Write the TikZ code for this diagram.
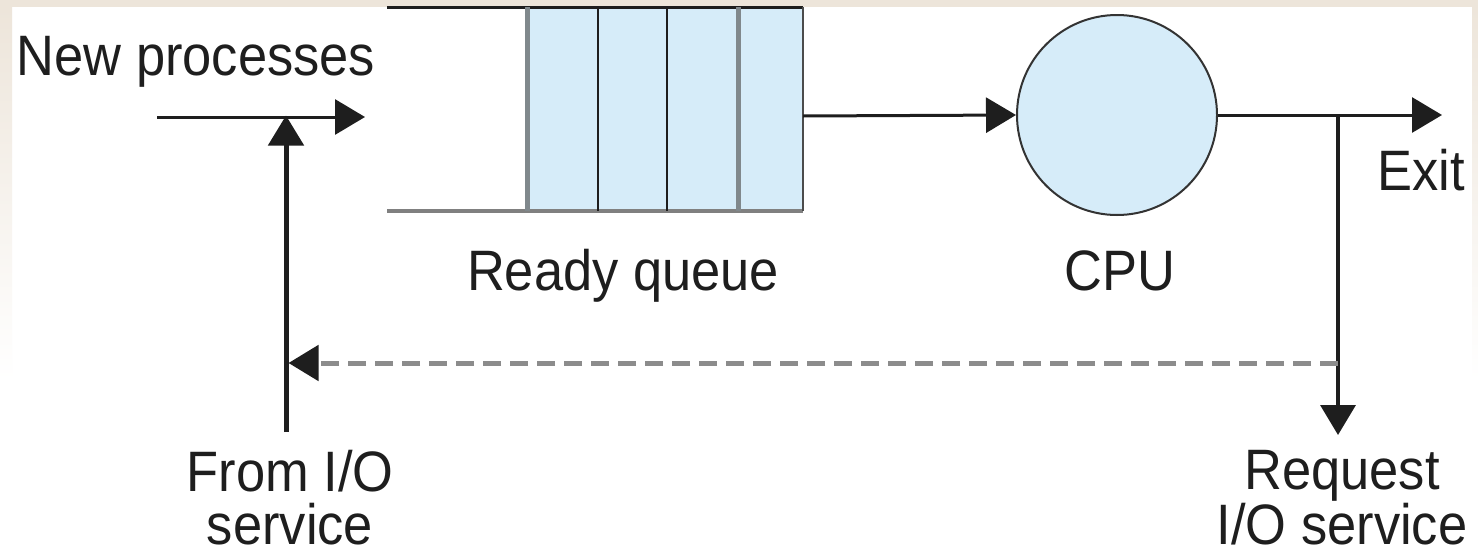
\documentclass[tikz,border=0pt]{standalone}
\usepackage{fontspec}
\setmainfont{Liberation Sans}
\usetikzlibrary{arrows.meta}

\definecolor{paper}{RGB}{237,229,218}
\definecolor{cellblue}{RGB}{214,236,249}
\definecolor{divgray}{RGB}{128,136,140}
\definecolor{inkgray}{RGB}{30,30,30}
\definecolor{dashgray}{RGB}{140,140,140}

\tikzset{
  flow/.style={draw=inkgray, line width=3pt,
    -{Triangle[length=30pt,width=35pt,color=inkgray]}},
  label/.style={font=\fontsize{57}{53}\selectfont, text=inkgray,
    xscale=0.92, transform shape, inner sep=0pt, align=center},
}

\begin{document}
\begin{tikzpicture}[x=1pt,y=-1pt]
  \useasboundingbox (0,0) rectangle (1478,557);

  % page background with its tinted edges
  \fill[white] (0,0) rectangle (1478,557);
  \fill[paper] (0,0) rectangle (1478,7);
  \shade[top color=paper, bottom color=white] (0,7) rectangle (12,380);
  \shade[top color=paper, bottom color=white] (1472,7) rectangle (1478,380);

  % ready queue: open slot on the left, four filled cells on the right
  \fill[cellblue] (527,7) rectangle (803,211);
  \draw[line width=3pt, inkgray] (387,7) -- (803,7);
  \draw[line width=4pt, gray] (387,211) -- (803,211);
  \foreach \xx in {527,738}
    \draw[line width=5pt, divgray] (\xx,7) -- (\xx,211);
  \foreach \xx in {598,667}
    \draw[line width=2.5pt, inkgray] (\xx,7) -- (\xx,211);
  \draw[line width=2pt, black!70] (803,7) -- (803,211);
  \coordinate (qout) at (803,116);

  % processor
  \node (cpu) [circle, draw=black!80, line width=2pt, fill=cellblue,
    minimum size=200pt, inner sep=0pt] at (1117,115) {};

  % free ends of the connectors
  \coordinate (newstart) at (157,117);
  \coordinate (newend) at (365,117);
  \coordinate (join) at (286,117);
  \coordinate (iostart) at (286,432);
  \coordinate (iojoin) at (286,363);
  \coordinate (branch) at (1338,115);
  \coordinate (branchdash) at (1338,363);
  \coordinate (exitend) at (1442,115);
  \coordinate (reqend) at (1338,435);

  % connectors
  \draw[flow] (newstart) -- (newend);
  \draw[flow, line width=5pt] (iostart) -- ([yshift=1.5pt]join);
  \draw[flow] (qout) -- (cpu.west);
  \draw[flow] (cpu.east) -- (exitend);
  \draw[flow, line width=3.5pt] (branch) -- (reqend);
  \draw[draw=dashgray, line width=5pt, dash pattern=on 18pt off 9pt,
    -{Triangle[length=30pt,width=35pt,color=inkgray]}]
    (branchdash) -- ([xshift=2.5pt]iojoin);

  % labels (base anchor sits on the last line)
  \node (tnew) [label, anchor=base] at (196,75) {New processes};
  \node (tready) [label, anchor=base] at (623,290) {Ready queue};
  \node (tcpu) [label, anchor=base] at (1120,290) {CPU};
  \node (texit) [label, anchor=base] at (1421,190) {Exit};
  \node (tfrom) [label, anchor=base] at (290,544) {From I/O\\service};
  \node (treq) [label, anchor=base] at (1342,544) {Request\\I/O service};
\end{tikzpicture}
\end{document}
